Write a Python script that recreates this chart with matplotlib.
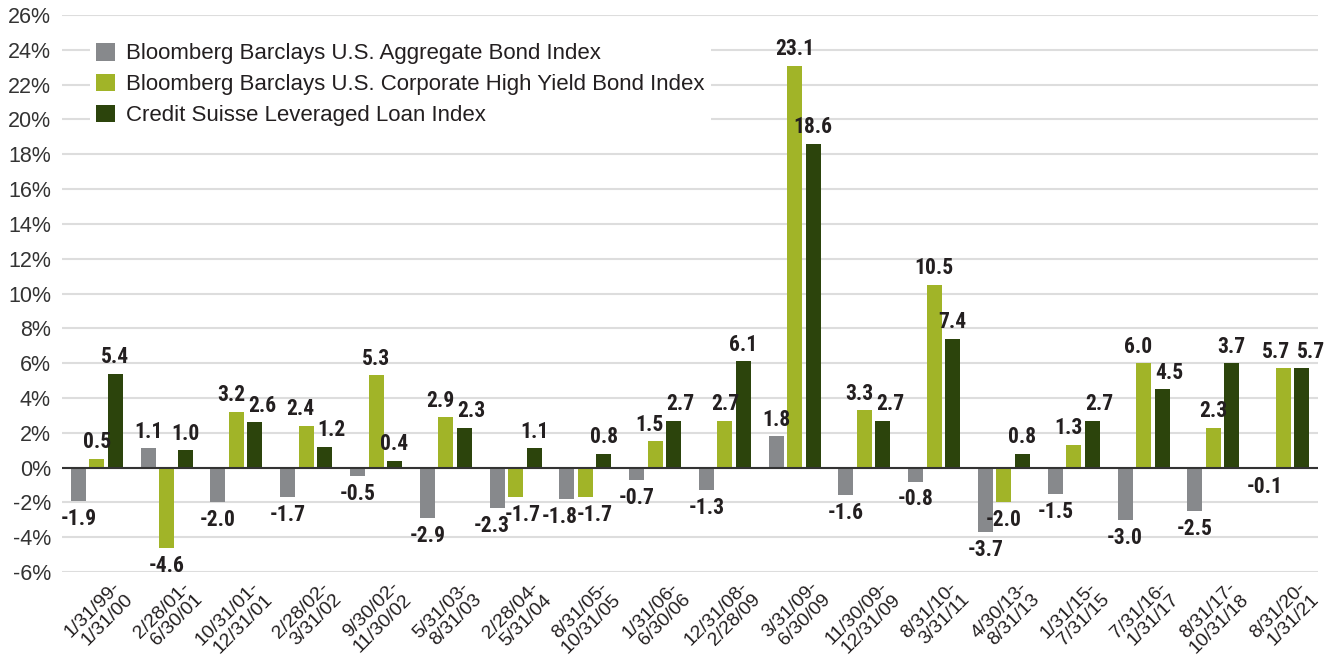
import matplotlib
matplotlib.use("Agg")
import matplotlib.pyplot as plt
import numpy as np
from matplotlib.patches import Patch
from matplotlib import font_manager as fm

periods = ["1/31/99-\n1/31/00", "2/28/01-\n6/30/01", "10/31/01-\n12/31/01", "2/28/02-\n3/31/02",
           "9/30/02-\n11/30/02", "5/31/03-\n8/31/03", "2/28/04-\n5/31/04", "8/31/05-\n10/31/05",
           "1/31/06-\n6/30/06", "12/31/08-\n2/28/09", "3/31/09-\n6/30/09", "11/30/09-\n12/31/09",
           "8/31/10-\n3/31/11", "4/30/13-\n8/31/13", "1/31/15-\n7/31/15", "7/31/16-\n1/31/17",
           "8/31/17-\n10/31/18", "8/31/20-\n1/31/21"]
agg = [-1.9, 1.1, -2.0, -1.7, -0.5, -2.9, -2.3, -1.8, -0.7, -1.3, 1.8, -1.6, -0.8, -3.7, -1.5, -3.0, -2.5, -0.1]
hy = [0.5, -4.6, 3.2, 2.4, 5.3, 2.9, -1.7, -1.7, 1.5, 2.7, 23.1, 3.3, 10.5, -2.0, 1.3, 6.0, 2.3, 5.7]
loan = [5.4, 1.0, 2.6, 1.2, 0.4, 2.3, 1.1, 0.8, 2.7, 6.1, 18.6, 2.7, 7.4, 0.8, 2.7, 4.5, 6.0, 5.7]
loan_labels = ["5.4", "1.0", "2.6", "1.2", "0.4", "2.3", "1.1", "0.8", "2.7", "6.1", "18.6", "2.7",
               "7.4", "0.8", "2.7", "4.5", "3.7", "5.7"]
series_names = ["Bloomberg Barclays U.S. Aggregate Bond Index",
                "Bloomberg Barclays U.S. Corporate High Yield Bond Index",
                "Credit Suisse Leveraged Loan Index"]
colors = ["#87898C", "#A1B428", "#2C440C"]
yticks = list(range(-6, 27, 2))

plt.rcParams['font.family'] = ['Liberation Sans', 'DejaVu Sans']

fp = None
for pref in ['Roboto Condensed', 'Liberation Sans Narrow', 'Open Sans Condensed', 'DejaVu Sans']:
    hit = [f for f in fm.fontManager.ttflist if f.name == pref and
           (f.stretch == 'condensed' or 'ondensed' in f.fname or 'arrow' in f.fname) and f.weight in ('bold', 700)]
    if hit:
        fp = fm.FontProperties(fname=hit[0].fname, size=15.5)
        break
if fp is None:
    fp = fm.FontProperties(family='DejaVu Sans', weight='bold', stretch='condensed', size=13.5)

fig = plt.figure(figsize=(13.25, 6.65), dpi=100)
ax = fig.add_axes([0.0468, 0.1398, 0.9479, 0.8376])

x = np.arange(len(periods))
w = 0.215
off = 0.265
all_series = [agg, hy, loan]
all_labels = [[f"{v:.1f}" for v in agg], [f"{v:.1f}" for v in hy], loan_labels]

# horizontal nudges (points) to separate neighbouring labels of similar height
nudges = np.zeros((3, len(periods)))
for i in range(len(periods)):
    for a, b in ((0, 1), (1, 2)):
        va_, vb_ = all_series[a][i], all_series[b][i]
        if va_ * vb_ > 0 and abs(va_ - vb_) < 1.6:
            if abs(va_ - vb_) < 0.15:
                nudges[a][i] -= 5
                nudges[b][i] += 7
            else:
                nudges[a][i] -= 4
                nudges[b][i] += 5

for k, (vals, labs) in enumerate(zip(all_series, all_labels)):
    xs = x + (k - 1) * off
    ax.bar(xs, vals, width=w, color=colors[k], zorder=3)
    for i, (xi, v, t) in enumerate(zip(xs, vals, labs)):
        dx = nudges[k][i]
        if v >= 0:
            ax.annotate(t, (xi, v), xytext=(dx, 4), textcoords='offset points',
                        ha='center', va='bottom', fontproperties=fp,
                        color='#231F20', zorder=4)
        else:
            ax.annotate(t, (xi, v), xytext=(dx, -5), textcoords='offset points',
                        ha='center', va='top', fontproperties=fp,
                        color='#231F20', zorder=4)

ax.set_xlim(-0.5, len(periods) - 0.5)
ax.set_ylim(-6, 26)
ax.set_yticks(yticks)
ax.set_yticklabels([f"{t}%" for t in yticks], fontsize=15.5, color='#333333')
ax.tick_params(axis='y', length=0, pad=8)
ax.set_xticks([])
ax.grid(axis='y', color='#DDDDDD', linewidth=1.5, zorder=0)
ax.axhline(0, color='#333333', linewidth=1.5, zorder=3.5)
for s in ax.spines.values():
    s.set_visible(False)

trans = matplotlib.transforms.blended_transform_factory(ax.transData, ax.transAxes)
for xi, lab in zip(x, periods):
    ax.text(xi + 0.21, -0.012, lab, transform=trans, rotation=45, rotation_mode='anchor',
            ha='right', va='top', fontsize=14, color='#231F20', linespacing=1.05)

handles = [Patch(facecolor=c, edgecolor='none') for c in colors]
leg = ax.legend(handles, series_names, loc='upper left', bbox_to_anchor=(0.022, 0.962),
                frameon=True, fontsize=16, handlelength=0.85, handleheight=0.85,
                handletextpad=0.5, labelspacing=0.42, borderpad=0.3, borderaxespad=0)
leg.get_frame().set_facecolor('white')
leg.get_frame().set_edgecolor('none')
leg.get_frame().set_alpha(1)
leg.set_zorder(5)
for t in leg.get_texts():
    t.set_color('#231F20')

fig.savefig("out.png", dpi=100)
